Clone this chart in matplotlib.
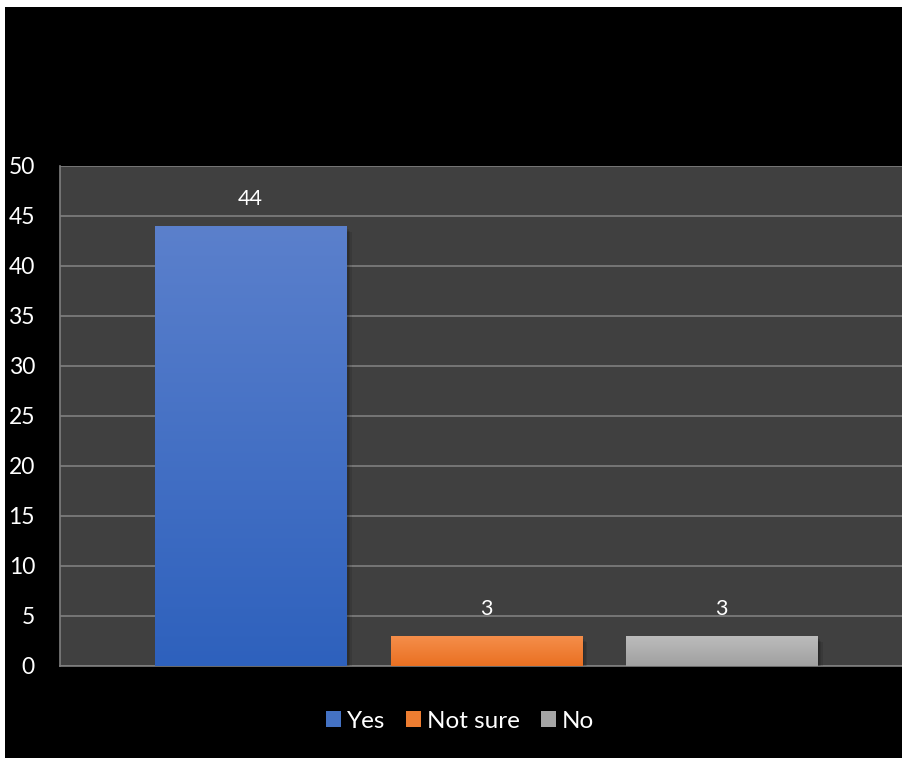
import numpy as np
import matplotlib
matplotlib.use("Agg")
import matplotlib.pyplot as plt
from matplotlib.patches import Rectangle, Patch
from matplotlib.colors import LinearSegmentedColormap

plt.rcParams['font.family'] = ['Lato', 'DejaVu Sans']

categories = ["Yes", "Not sure", "No"]
values = [44, 3, 3]
yticks = [0, 5, 10, 15, 20, 25, 30, 35, 40, 45, 50]

# gradient colours (top, bottom) for each bar
grad_top = ["#5b80cc", "#f58e4a", "#bcbcbc"]
grad_bottom = ["#2e61bd", "#ea7022", "#a0a0a0"]
legend_colors = ["#4472c4", "#ed7d31", "#a5a5a5"]

W, H = 902, 758
fig = plt.figure(figsize=(W / 100, H / 100), dpi=100, facecolor="white")

# black chart area inside a thin white margin
fig.patches.append(Rectangle((5 / W, 0), 1 - 5 / W, (H - 7) / H,
                             transform=fig.transFigure, facecolor="black",
                             edgecolor="none", zorder=-5))

ax = fig.add_axes([60 / W, (H - 666) / H, (W - 60) / W, 500 / H], zorder=2)
ax.set_facecolor("#404040")

x = np.arange(len(categories))
bar_w = 0.811

ax.set_yticks(yticks)
ax.yaxis.grid(True, color="#7f7f7f", linewidth=1.2, zorder=1)
ax.set_axisbelow(True)
ax.tick_params(axis="y", length=0, pad=18, labelcolor="white", labelsize=16.5)
ax.tick_params(axis="x", length=0, labelbottom=False)
for s in ["top", "right"]:
    ax.spines[s].set_visible(False)
for s in ["left", "bottom"]:
    ax.spines[s].set_color("#7f7f7f")
    ax.spines[s].set_linewidth(1.2)
    ax.spines[s].set_zorder(1)

for i, (xi, v) in enumerate(zip(x, values)):
    left = xi - bar_w / 2
    # soft drop shadow
    for k in range(4):
        off = 0.006 * (k + 1)
        ax.add_patch(Rectangle((left + off, 0), bar_w, v - 0.15 * (k + 1),
                               facecolor="black", alpha=0.10, edgecolor="none",
                               zorder=2))
    cmap = LinearSegmentedColormap.from_list(f"g{i}", [grad_bottom[i], grad_top[i]])
    grad = np.linspace(0, 1, 256).reshape(-1, 1)
    ax.imshow(grad, cmap=cmap, origin="lower", aspect="auto",
              extent=(left, left + bar_w, 0, v), zorder=3, interpolation="bicubic")
    ax.text(xi, v + 2.7, f"{v}", ha="center", va="center", color="white",
            fontsize=15.5, zorder=4)

ax.set_xlim(-0.809, 2.766)
ax.set_ylim(0, 50)

handles = [Patch(facecolor=c, edgecolor="none") for c in legend_colors]
fig.legend(handles, categories, loc="center", bbox_to_anchor=(460 / W, (H - 721) / H),
           ncol=3, frameon=False, fontsize=17.5, labelcolor="white",
           handlelength=0.62, handleheight=0.62, handletextpad=0.25,
           columnspacing=0.85)

fig.savefig("out.png", dpi=100, facecolor=fig.get_facecolor())
